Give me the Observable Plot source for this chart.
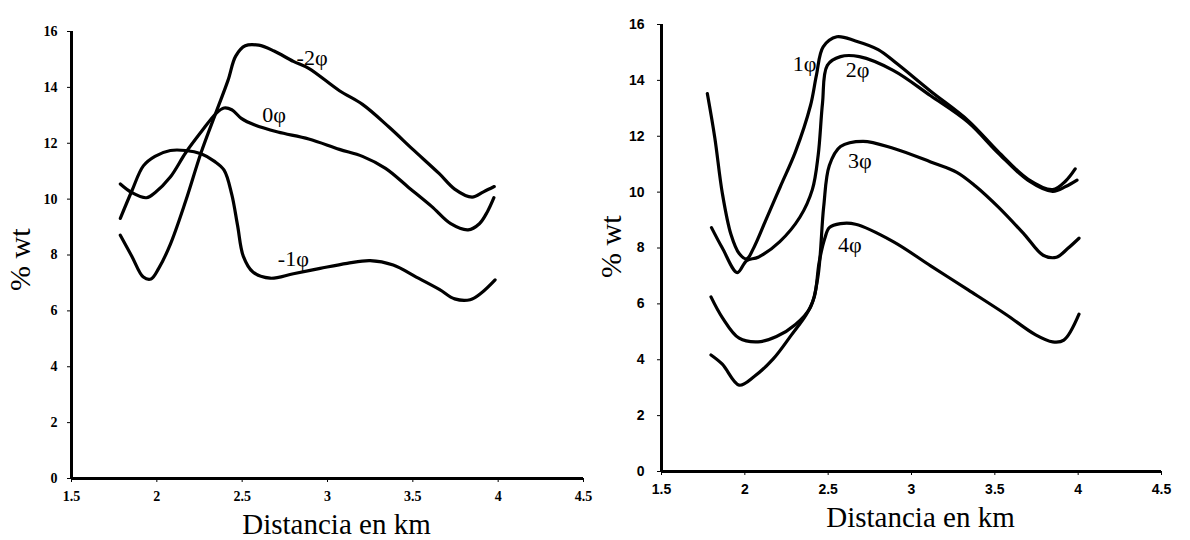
<!DOCTYPE html>
<html>
<head>
<meta charset="utf-8">
<script src="https://cdn.jsdelivr.net/npm/d3@7"></script>
<script src="https://cdn.jsdelivr.net/npm/@observablehq/plot@0.6"></script>
<style>
  html, body { margin: 0; padding: 0; background: white; }
  #wrap { display: flex; width: 1190px; height: 540px; }
  #wrap > div { width: 595px; height: 540px; }
</style>
</head>
<body>
<div id="wrap"><div id="left"></div><div id="right"></div></div>
<script>
// ---- tick values ----
const xTicks = [1.5, 2, 2.5, 3, 3.5, 4, 4.5];
const yTicks = [0, 2, 4, 6, 8, 10, 12, 14, 16];
const xLabel = "Distancia en km";
const yLabel = "% wt";

// ---- left panel series ----
const leftNames = ["-2φ", "-1φ", "0φ"];
const m2_x = [1.786,1.854,1.921,1.966,2.011,2.079,2.169,2.259,2.349,2.417,2.462,2.518,2.597,2.687,2.80,2.89,3.07,3.205,3.36,3.5,3.655,3.745,3.847,3.914,3.977];
const m2_y = [8.71,7.95,7.21,7.14,7.52,8.38,9.93,11.66,13.14,14.25,15.12,15.49,15.51,15.30,14.93,14.68,13.88,13.39,12.58,11.78,10.91,10.36,10.07,10.26,10.45];
const m1_x = [1.786,1.854,1.921,1.989,2.079,2.169,2.259,2.338,2.394,2.439,2.473,2.507,2.563,2.664,2.80,2.957,3.115,3.25,3.385,3.52,3.655,3.745,3.836,3.903,3.982];
const m1_y = [9.31,10.3,11.19,11.53,11.74,11.74,11.62,11.35,11.04,10.17,9.06,7.95,7.39,7.17,7.33,7.52,7.70,7.80,7.64,7.21,6.77,6.43,6.40,6.65,7.11];
const p0_x = [1.786,1.854,1.939,1.989,2.079,2.169,2.259,2.349,2.394,2.439,2.495,2.574,2.709,2.89,3.07,3.205,3.34,3.475,3.61,3.722,3.824,3.89,3.937,3.975];
const p0_y = [10.54,10.23,10.05,10.23,10.79,11.66,12.40,13.08,13.26,13.20,12.89,12.65,12.40,12.15,11.78,11.53,11.10,10.42,9.74,9.12,8.90,9.12,9.55,10.05];
const leftLabelText = ["-2φ", "0φ", "-1φ"];
const leftLabelX = [2.91, 2.687, 2.80];
const leftLabelY = [15.05, 13.0, 7.85];

// ---- right panel series ----
const rightNames = ["1φ", "2φ", "3φ", "4φ"];
const p1_x = [1.775,1.82,1.865,1.917,1.966,2.011,2.056,2.124,2.214,2.304,2.394,2.43,2.47,2.552,2.664,2.80,2.912,3.115,3.34,3.52,3.70,3.847,3.925,3.982];
const p1_y = [13.53,11.94,9.96,8.48,7.80,7.61,8.04,8.97,10.21,11.45,13.1,14.2,15.2,15.56,15.41,15.10,14.60,13.61,12.56,11.45,10.46,10.09,10.40,10.83];
const p2_x = [1.80,1.865,1.955,2.011,2.08,2.21,2.33,2.405,2.44,2.466,2.495,2.574,2.687,2.89,3.115,3.34,3.52,3.70,3.847,3.925,3.993];
const p2_y = [8.73,8.0,7.12,7.55,7.67,8.23,9.1,10.09,11.32,13.18,14.54,14.85,14.85,14.36,13.45,12.5,11.4,10.42,10.03,10.2,10.43];
const p3_x = [1.797,1.865,1.966,2.079,2.19,2.304,2.394,2.439,2.473,2.507,2.574,2.709,2.89,3.115,3.272,3.385,3.52,3.678,3.79,3.87,3.937,4.005];
const p3_y = [6.25,5.51,4.77,4.64,4.83,5.26,5.88,6.99,9.47,10.95,11.63,11.82,11.57,11.08,10.71,10.21,9.47,8.48,7.74,7.67,7.98,8.35];
const p4_x = [1.797,1.865,1.966,2.056,2.169,2.28,2.37,2.417,2.446,2.48,2.507,2.574,2.664,2.89,3.115,3.34,3.565,3.745,3.847,3.914,4.005];
const p4_y = [4.17,3.84,3.09,3.40,4.02,4.89,5.63,6.25,7.49,8.35,8.73,8.87,8.85,8.23,7.36,6.50,5.63,4.89,4.64,4.70,5.63];
const rightLabelText = ["1φ", "2φ", "3φ", "4φ"];
const rightLabelX = [2.358, 2.676, 2.69, 2.63];
const rightLabelY = [14.58, 14.36, 11.1, 8.1];

function toRows(names, xs, ys) {
  const rows = [];
  names.forEach((n, k) => xs[k].forEach((x, i) => rows.push({k: n, x, y: ys[k][i]})));
  return rows;
}
function toLabels(t, xs, ys) {
  return t.map((s, i) => ({t: s, x: xs[i], y: ys[i]}));
}

function panel(o) {
  return Plot.plot({
    width: 595, height: 540,
    marginLeft: o.ml, marginRight: o.mr, marginTop: o.mt, marginBottom: o.mb,
    x: {domain: [1.5, 4.5]},
    y: {domain: [0, 16]},
    style: {background: "white", color: "black", overflow: "visible",
            fontSize: "14px", fontWeight: "bold", fontFamily: o.tickFont},
    marks: [
      Plot.axisX({ticks: xTicks, tickSize: 4, tickPadding: 9, tickFormat: d => String(d), label: null,
        fontSize: 14, fontWeight: "bold"}),
      Plot.axisY({ticks: yTicks, tickSize: 4, tickPadding: o.ytp, tickFormat: d => String(d), label: null,
        fontSize: 14, fontWeight: "bold"}),
      Plot.ruleY([0], {x1: 1.5, x2: 4.5, stroke: "black", strokeWidth: 3}),
      Plot.ruleX([1.5], {y1: 0, y2: 16, stroke: "black", strokeWidth: 3}),
      Plot.line(o.rows, {x: "x", y: "y", z: "k", curve: "catmull-rom", stroke: "black", strokeWidth: 3.2}),
      Plot.text(o.labels, {x: "x", y: "y", text: "t", fontSize: 22, fontWeight: "normal",
        fontFamily: "Liberation Serif", fill: "black"}),
      Plot.text([xLabel], {frameAnchor: "bottom", dx: 9, dy: 55, lineAnchor: "bottom",
        fontSize: 29, fontWeight: "normal", fontFamily: "Liberation Serif", fill: "black"}),
      Plot.text([yLabel], {frameAnchor: "left", rotate: -90, dx: o.ydx, dy: o.ydy,
        fontSize: 30, fontWeight: "normal", fontFamily: "Liberation Serif", fill: "black"})
    ]
  });
}

document.getElementById("left").append(panel({
  ml: 71, mr: 12, mt: 31, mb: 62, ytp: 10, tickFont: "Liberation Serif",
  ydx: -51, ydy: 36,
  rows: toRows(leftNames, [m2_x, m1_x, p0_x], [m2_y, m1_y, p0_y]),
  labels: toLabels(leftLabelText, leftLabelX, leftLabelY)
}));
document.getElementById("right").append(panel({
  ml: 66, mr: 29, mt: 24, mb: 69, ytp: 13, tickFont: "Liberation Sans",
  ydx: -50, ydy: 30,
  rows: toRows(rightNames, [p1_x, p2_x, p3_x, p4_x], [p1_y, p2_y, p3_y, p4_y]),
  labels: toLabels(rightLabelText, rightLabelX, rightLabelY)
}));
</script>
</body>
</html>
